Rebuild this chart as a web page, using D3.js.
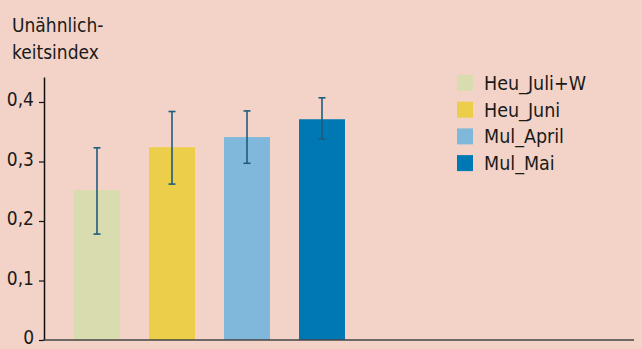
<!DOCTYPE html>
<html><head><meta charset="utf-8">
<script src="https://cdn.jsdelivr.net/npm/d3@7"></script>
<style>
html,body{margin:0;padding:0;background:#f3d3c7;}
svg{display:block;}
text{font-family:"Liberation Sans Narrow","DejaVu Sans Condensed","Roboto",sans-serif;fill:#1a1a1a;}
</style></head>
<body>
<svg id="chart" width="642" height="349"></svg>
<script>
const categories = ["Heu_Juli+W", "Heu_Juni", "Mul_April", "Mul_Mai"];
const values = [0.252, 0.324, 0.341, 0.371];
const errLow = [0.178, 0.262, 0.297, 0.338];
const errHigh = [0.323, 0.384, 0.385, 0.407];
const colors = ["#d9dcae", "#ecce4a", "#7fb8da", "#0078b4"];
const yTicks = [0, 0.1, 0.2, 0.3, 0.4];
const titleLines = ["Unähnlich-", "keitsindex"];

const svg = d3.select("#chart");
svg.append("rect").attr("width", 642).attr("height", 349).attr("fill", "#f3d3c7");

const axisX = 44, axisEnd = 634;
const y = d3.scaleLinear().domain([0, 0.442]).range([340, 77]);
const x = d3.scaleBand().domain(categories).range([59.5, 359.5]).paddingInner(0.387).paddingOuter(0.1935);

// bars
svg.selectAll("rect.bar").data(categories).join("rect")
  .attr("class", "bar")
  .attr("x", d => x(d))
  .attr("width", x.bandwidth())
  .attr("y", (d, i) => y(values[i]))
  .attr("height", (d, i) => y(0) - y(values[i]))
  .attr("fill", (d, i) => colors[i]);

// error bars
const eg = svg.append("g").attr("stroke", "#1d5c7e").attr("stroke-width", 1.6).attr("fill", "none");
categories.forEach((c, i) => {
  const cx = x(c) + x.bandwidth() / 2;
  eg.append("line").attr("x1", cx).attr("x2", cx).attr("y1", y(errLow[i])).attr("y2", y(errHigh[i]));
  eg.append("line").attr("x1", cx - 3.5).attr("x2", cx + 3.5).attr("y1", y(errLow[i])).attr("y2", y(errLow[i]));
  eg.append("line").attr("x1", cx - 3.5).attr("x2", cx + 3.5).attr("y1", y(errHigh[i])).attr("y2", y(errHigh[i]));
});

// y axis
const yAxis = d3.axisLeft(y).tickValues(yTicks).tickSize(5).tickSizeOuter(0).tickPadding(5)
  .tickFormat(d => d === 0 ? "0" : d.toFixed(1).replace(".", ","));
const ga = svg.append("g").attr("transform", `translate(${axisX},0)`).call(yAxis);
ga.select(".domain").attr("stroke", "#111").attr("stroke-width", 1.5);
ga.selectAll(".tick line").attr("stroke", "#111").attr("stroke-width", 1.2);
ga.selectAll(".tick text").attr("font-size", 19).attr("fill", "#1a1a1a").attr("dy", "0.2em")
  .attr("font-family", '"Liberation Sans Narrow","DejaVu Sans Condensed",sans-serif');

// x axis baseline
svg.append("line").attr("x1", axisX - 1).attr("x2", axisEnd).attr("y1", y(0)).attr("y2", y(0))
  .attr("stroke", "#444").attr("stroke-width", 1.6);

// title
svg.selectAll("text.title").data(titleLines).join("text")
  .attr("class", "title").attr("x", 12).attr("y", (d, i) => 32 + i * 27)
  .attr("font-size", 19).text(d => d);

// legend
const lg = svg.append("g");
categories.forEach((c, i) => {
  const yy = 75 + i * 26.7;
  lg.append("rect").attr("x", 457).attr("y", yy).attr("width", 16).attr("height", 16).attr("fill", colors[i]);
  lg.append("text").attr("x", 484).attr("y", yy + 15).attr("font-size", 19.5).text(c);
});
</script>
</body></html>
